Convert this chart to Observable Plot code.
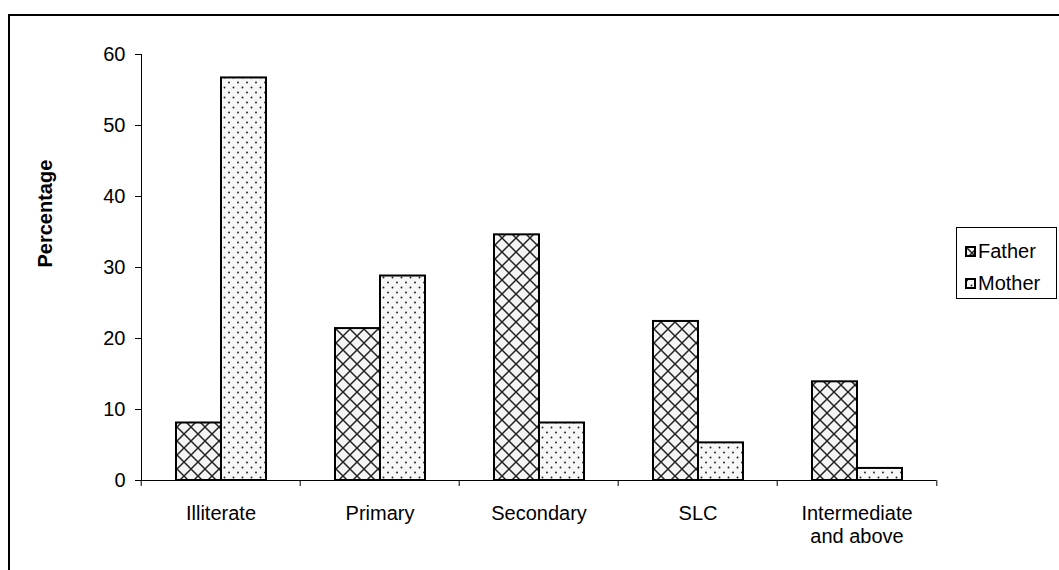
<!DOCTYPE html>
<html><head><meta charset="utf-8">
<script src="https://cdn.jsdelivr.net/npm/d3@7"></script>
<script src="https://cdn.jsdelivr.net/npm/@observablehq/plot@0.6"></script>
<style>
body{margin:0;background:#fff;font-family:"Liberation Sans",Arial,sans-serif;}
#wrap{position:relative;width:1059px;height:570px;overflow:hidden;background:#fff;}
#border{position:absolute;left:8px;top:14px;width:1100px;height:600px;border-left:2px solid #000;border-top:2px solid #000;}
#chart{position:absolute;left:0;top:0;}
#legend{position:absolute;left:956px;top:227px;width:99px;height:70px;border:1px solid #000;background:#fff;font-size:20px;color:#000;}
.item{position:absolute;left:8px;height:24px;display:flex;align-items:center;white-space:nowrap;}
.item svg{margin-right:2px;}
</style></head><body>
<svg width="0" height="0" style="position:absolute">
<defs>
<pattern id="cross" width="14" height="14" patternUnits="userSpaceOnUse">
<rect width="14" height="14" fill="#f4f4f4"/>
<path d="M0,0L14,14M14,0L0,14" stroke="#222" stroke-width="1.5"/>
</pattern>
<pattern id="dots" width="9" height="10" patternUnits="userSpaceOnUse">
<rect width="9" height="10" fill="#f7f7f7"/>
<circle cx="2" cy="2.5" r="0.95" fill="#222"/>
<circle cx="6.5" cy="7.5" r="0.95" fill="#222"/>
</pattern>
</defs></svg>
<div id="wrap">
<div id="border"></div>
<div id="chart"></div>
<div id="legend"></div>
</div>
<script>
const categories = ["Illiterate", "Primary", "Secondary", "SLC", "Intermediate and above"];
const categoryLabels = ["Illiterate", "Primary", "Secondary", "SLC", "Intermediate\nand above"];
const series = ["Father", "Mother"];
const fatherValues = [8.1, 21.4, 34.6, 22.4, 13.9];
const motherValues = [56.7, 28.8, 8.1, 5.3, 1.7];
const yTicks = [0, 10, 20, 30, 40, 50, 60];
const yLabel = "Percentage";

const data = categories.flatMap((c, i) => [
  {category: c, series: "Father", value: fatherValues[i]},
  {category: c, series: "Mother", value: motherValues[i]}
]);

const W = 1059, H = 570, mL = 139, mR = 122, mT = 54, mB = 90;
const step = (W - mL - mR) / categories.length;
const fills = ["url(#cross)", "url(#dots)"];

const chart = Plot.plot({
  width: W, height: H,
  marginLeft: mL, marginRight: mR, marginTop: mT, marginBottom: mB,
  style: {fontFamily: "'Liberation Sans', Arial, sans-serif", fontSize: "20px", color: "#000", background: "transparent", overflow: "visible"},
  fx: {domain: categories, padding: 0, axis: null, label: null},
  x: {domain: series, paddingInner: 0, paddingOuter: 0.735, axis: null, label: null},
  y: {domain: [0, 60], axis: null},
  color: {domain: series, range: fills},
  marks: [
    Plot.barY(data, {fx: "category", x: "series", y: "value", fill: "series", stroke: "#000", strokeWidth: 2}),
    Plot.ruleY([0], {stroke: "#000"}),
    Plot.frame({anchor: "left", facet: "super", stroke: "#000"}),
    Plot.axisY({ticks: yTicks, tickSize: 6, tickPadding: 10, fontSize: 20, label: null}),
    Plot.axisFx({anchor: "bottom", ticks: categories, tickSize: 0, tickPadding: 23, fontSize: 20, lineHeight: 1.15, label: null,
      tickFormat: c => categoryLabels[categories.indexOf(c)]}),
    Plot.axisFx({anchor: "bottom", ticks: categories, tickSize: 6, tickFormat: () => null, label: null, dx: -step / 2}),
    Plot.axisFx({anchor: "bottom", ticks: [categories[categories.length - 1]], tickSize: 6, tickFormat: () => null, label: null, dx: step / 2}),
    Plot.text([yLabel], {facet: "super", frameAnchor: "left", dx: -96, rotate: -90, fontWeight: "bold", fontSize: 20})
  ]
});
document.getElementById("chart").appendChild(chart);

const legend = document.getElementById("legend");
series.forEach((s, i) => {
  const item = document.createElement("div");
  item.className = "item";
  item.style.top = (11 + i * 32) + "px";
  item.innerHTML = `<svg width="11" height="11"><rect x="1" y="1" width="9" height="9" fill="${fills[i]}" stroke="#000" stroke-width="2"/></svg><span>${s}</span>`;
  legend.appendChild(item);
});
</script>
</body></html>
